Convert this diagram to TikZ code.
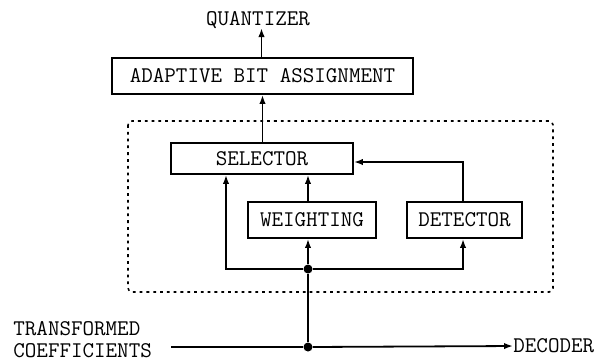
\documentclass[tikz,border=0pt]{standalone}
\usepackage{fontspec}
\setmonofont{Latin Modern Mono}
\usetikzlibrary{arrows.meta}
\begin{document}
\begin{tikzpicture}[x=0.5pt,y=-0.5pt,
  lbl/.style={font=\ttfamily\fontsize{11.2}{10.8}\selectfont, inner sep=0pt},
  blk/.style={lbl, draw, line width=0.9pt, minimum height=18pt},
  wire/.style={line width=0.9pt},
  arr/.style={wire, -{Latex[length=4.5pt,width=3.2pt]}},
  dot/.style={circle, fill, inner sep=0pt, minimum size=4.5pt}]
\useasboundingbox (0,0) rectangle (597,361);

% processing blocks
\node[blk, minimum width=150.5pt] (aba) at (262.5,76) {ADAPTIVE BIT ASSIGNMENT};
\node[blk, minimum width=91pt, minimum height=15.5pt] (sel) at (262,158.5) {SELECTOR};
\node[blk, minimum width=64pt] (wt) at (312,220) {WEIGHTING};
\node[blk, minimum width=57.5pt] (det) at (464.5,220) {DETECTOR};

% dotted enclosure of the selection stage
\draw[line width=0.8pt, dash pattern=on 1.4pt off 2pt, rounded corners=2pt]
  (128,121) rectangle (553,292);

% terminal labels
\node[lbl] (quant) at (258,20) {QUANTIZER};
\node[lbl, anchor=west, align=left] (tr) at (13,339.5) {TRANSFORMED\\COEFFICIENTS};
\node[lbl, anchor=west] (dec) at (513,346) {DECODER};

% branch points
\node[dot] (j1) at (308,269) {};
\node[dot] (j2) at (308,347) {};
\coordinate (inp) at (171,347);
\coordinate (bl) at (226,269);
\coordinate (br) at (463,269);
\coordinate (fb) at (463,162);

% signal paths
\draw[wire] (inp) -- (j2);
\draw[arr] (j2) -- (dec.west);
\draw[wire] (j2) -- (j1);
\draw[arr] (j1) -- (j1 |- wt.south);
\draw[arr] (j1) -- (bl) -- (bl |- sel.south);
\draw[arr] (j1) -- (br) -- (br |- det.south);
\draw[arr] (j1 |- wt.north) -- (j1 |- sel.south);
\draw[arr] (det.north -| fb) -- (fb) -- (fb -| sel.east);
\draw[arr] (sel.north -| aba.south) -- (aba.south);
\draw[arr] (aba.north -| 261.5,0) -- (261.5,28);
\end{tikzpicture}
\end{document}
